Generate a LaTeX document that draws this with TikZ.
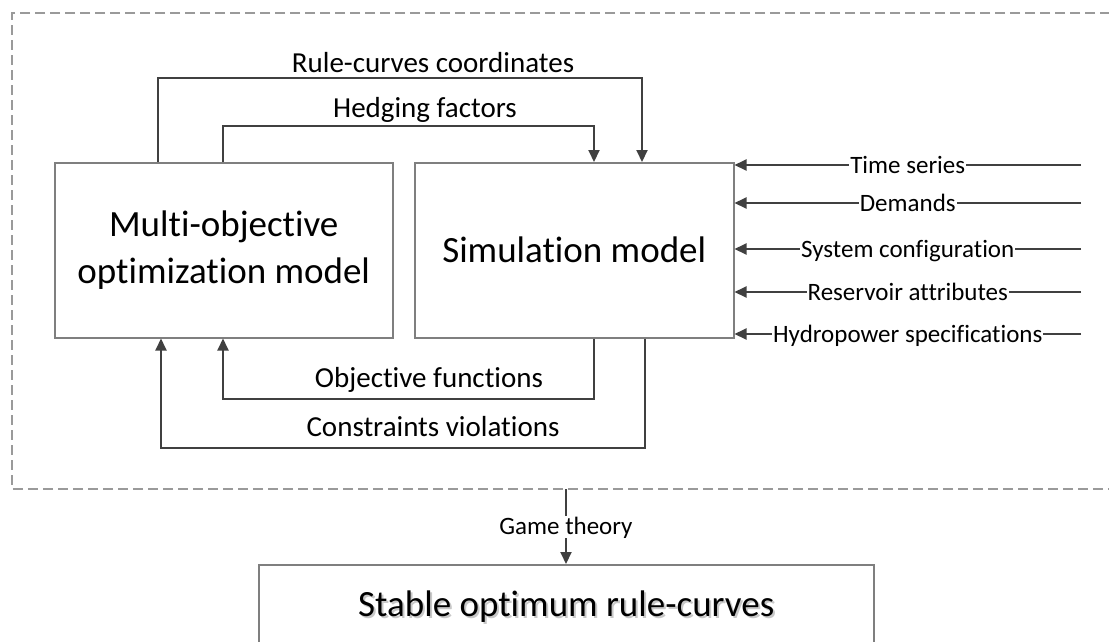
\documentclass[tikz,border=0pt]{standalone}
\usepackage{fontspec}
\setmainfont{Carlito}[Ligatures={NoCommon,NoRare}]
\usetikzlibrary{arrows.meta}
\definecolor{cgray}{HTML}{404040}
\definecolor{boxgray}{HTML}{7F7F7F}
\definecolor{dashgray}{HTML}{9A9A9A}
\definecolor{shadowgray}{HTML}{C8C8C8}
\begin{document}
\begin{tikzpicture}[x=1pt,y=-1pt,
  box/.style={draw=boxgray, line width=1.5pt, rectangle, inner sep=0pt, anchor=north west, align=center, font=\fontsize{37}{47}\selectfont},
  arr/.style={draw=cgray, line width=2pt, -{Triangle[length=12pt,width=11pt]}},
  lab/.style={font=\fontsize{29}{34}\selectfont, inner sep=0pt, anchor=base},
  inlab/.style={font=\fontsize{25}{30}\selectfont, fill=white, inner xsep=1pt, inner ysep=0pt, text height=16pt, text depth=0pt},
  dashline/.style={draw=dashgray, line width=1.3pt, dash pattern=on 10pt off 5pt}
]
\useasboundingbox (0,0) rectangle (1109,641);
\fill[white] (0,0) rectangle (1109,641);

% dashed group border
\draw[dashline] (1125,13) -- (12,13) -- (12,489) -- (1125,489);

% main boxes
\node[box, minimum width=338pt, minimum height=175pt] (mo) at (54,162) {Multi-objective\\optimization model};
\node[box, minimum width=319pt, minimum height=175pt] (sim) at (414,162) {Simulation model};

% top connectors
\draw[arr] ([xshift=104pt]mo.north west) -- ++(0,-84) -| ([xshift=228pt]sim.north west);
\draw[arr] ([xshift=169pt]mo.north west) -- ++(0,-36) -| ([xshift=180pt]sim.north west);
\node[lab] (lrc) at (433,72) {Rule-curves coordinates};
\node[lab] (lhf) at (425,117) {Hedging factors};

% bottom connectors
\draw[arr] ([xshift=180pt]sim.south west) -- ++(0,60) -| ([xshift=169pt]mo.south west);
\draw[arr] ([xshift=231pt]sim.south west) -- ++(0,109) -| ([xshift=107pt]mo.south west);
\node[lab] (lof) at (429,387) {Objective functions};
\node[lab] (lcv) at (433,436) {Constraints violations};

% right inputs
\coordinate (i1) at (1081,165);
\coordinate (i2) at (1081,203);
\coordinate (i3) at (1081,249);
\coordinate (i4) at (1081,292);
\coordinate (i5) at (1081,334);
\draw[arr] (i1) -- (sim.east |- i1) node[inlab, midway] (t1) {Time series};
\draw[arr] (i2) -- (sim.east |- i2) node[inlab, midway] (t2) {Demands};
\draw[arr] (i3) -- (sim.east |- i3) node[inlab, midway] (t3) {System configuration};
\draw[arr] (i4) -- (sim.east |- i4) node[inlab, midway] (t4) {Reservoir attributes};
\draw[arr] (i5) -- (sim.east |- i5) node[inlab, midway] (t5) {Hydropower specifications};

% result box
\node[box, minimum width=615pt, minimum height=82pt] (stable) at (258,564) {};
\node[font=\fontsize{37}{44}\selectfont, text=shadowgray, inner sep=0pt] (stsh) at ([xshift=2pt,yshift=-3pt]stable.center) {Stable optimum rule-curves};
\node[font=\fontsize{37}{44}\selectfont, inner sep=0pt] (sttxt) at ([yshift=-1pt]stable.center) {Stable optimum rule-curves};

% game theory
\coordinate (gt) at (566,489);
\draw[arr] (gt) -- (stable.north -| gt) node[inlab, pos=0.5, inner ysep=3pt] (lgt) {Game theory};
\end{tikzpicture}
\end{document}
